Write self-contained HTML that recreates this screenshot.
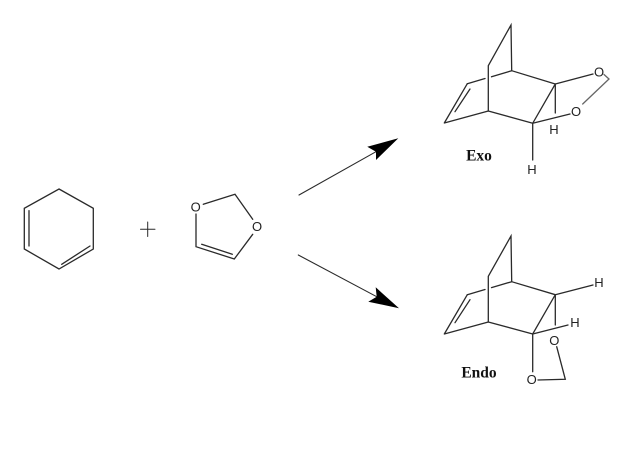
<!DOCTYPE html>
<html>
<head>
<meta charset="utf-8">
<style>
html,body{margin:0;padding:0;background:#fff}
svg{display:block}
text{font-family:"Liberation Sans",sans-serif;font-size:13px;fill:#222;text-anchor:middle}
text.b{font-family:"Liberation Serif",serif;font-weight:bold;font-size:15.5px;fill:#111}
</style>
</head>
<body>
<svg width="640" height="456" viewBox="0 0 640 456" xmlns="http://www.w3.org/2000/svg">
<rect width="640" height="456" fill="#fff"/>
<g stroke="#2a2a2a" stroke-width="1.3" fill="none" stroke-linecap="round">
<!-- cyclohexadiene -->
<path d="M59 189L93.3 208.3V249L59 269L24.3 249V208.3Z"/>
<path d="M29 210.7V246M61.7 264.3L90 246"/>
<!-- plus -->
<path d="M140.5 229.3H155M147.7 222V236.5" stroke-width="1"/>
<!-- dioxole -->
<path d="M203.3 204.3L235 194.3L252.7 219.3M252.7 234.3L234.3 259L196 246.7V214"/>
<path d="M201.7 244.3L232.3 254.3"/>
<!-- arrows -->
<path d="M299 195L376 151.7M298.3 255L376.7 296.7" stroke-width="1.1"/>
<!-- exo -->
<path d="M488.3 65.7L511 25L511.7 70.7L555.3 84L532.7 123.3L488.3 111V65.7"/>
<path d="M467.3 83.7L485 78.5M491.5 76.8L511.7 70.7"/>
<path d="M444.3 123L467.3 83.7M455 111.7L470 89M444.3 123L488.3 111"/>
<path d="M555.3 84V113M555.3 84L593 74M532.7 123.3L570 114M532.7 123.3V160"/>
<path d="M604 74.5L609 79L582.7 104" stroke="#666"/>
<!-- endo -->
<path d="M488.3 276.3L511 236L511.7 281.7L555.3 294.7L532.7 334L488.3 322V276.3"/>
<path d="M467.3 294.7L485 289.5M491.5 287.6L511.7 281.7"/>
<path d="M444.3 334L467.3 294.7M455 322.7L470 299.7M444.3 334L488.3 322"/>
<path d="M555.3 294.7V325M555.3 294.7L593 285M532.7 334L568 325M532.7 334V371.7"/>
<path d="M556.7 346.7L565.3 379.3L538 380"/>
</g>
<path d="M398.3 138.3L367.3 146.7L376 151.7L376 160Z" fill="#000"/>
<path d="M399 308.3L375.7 287.3L376.7 296.7L368.3 301.7Z" fill="#000"/>
<g>
<text x="195.7" y="211.5">O</text>
<text x="257" y="231">O</text>
<text x="599" y="76.5">O</text>
<text x="576" y="116">O</text>
<text x="554" y="134">H</text>
<text x="532" y="174">H</text>
<text x="599" y="287">H</text>
<text x="575" y="327">H</text>
<text x="554.3" y="345">O</text>
<text x="531.7" y="384">O</text>
<text class="b" x="479" y="160.7">Exo</text>
<text class="b" x="479" y="377.3">Endo</text>
</g>
</svg>
</body>
</html>
